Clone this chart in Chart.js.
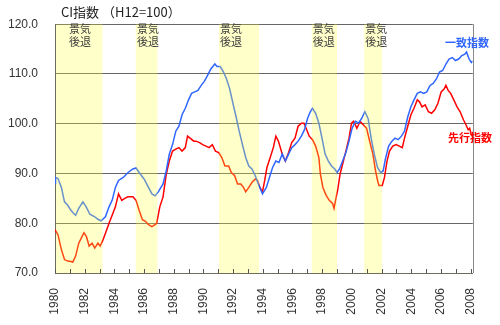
<!DOCTYPE html>
<html>
<head>
<meta charset="utf-8">
<script src="https://cdn.jsdelivr.net/npm/chart.js@4.4.1/dist/chart.umd.min.js"></script>
<style>
  html, body { margin: 0; padding: 0; background: #ffffff; }
  #wrap { width: 500px; height: 325px; }
</style>
</head>
<body>
<div id="wrap"><canvas id="c" width="500" height="325"></canvas></div>
<script>
// CI indices (H12 = 100), sampled through 1980 - early 2008
const coincidentYears = [
  1980.0, 1980.04, 1980.2, 1980.43, 1980.64, 1980.86, 1981.07, 1981.25, 1981.39, 1981.6,
  1981.88, 1982.1, 1982.35, 1982.68, 1982.89, 1983.1, 1983.4, 1983.64, 1983.85, 1984.07,
  1984.28, 1984.6, 1984.92, 1985.25, 1985.46, 1985.67, 1986.0, 1986.3, 1986.53, 1986.74,
  1986.96, 1987.28, 1987.5, 1987.7, 1987.92, 1988.14, 1988.35, 1988.56, 1988.78, 1989.0,
  1989.2, 1989.42, 1989.63, 1989.85, 1990.06, 1990.28, 1990.5, 1990.77, 1990.92, 1991.13,
  1991.35, 1991.56, 1991.77, 1991.99, 1992.2, 1992.41, 1992.63, 1992.85, 1993.06, 1993.27,
  1993.49, 1993.7, 1993.98, 1994.24, 1994.45, 1994.66, 1994.88, 1995.09, 1995.31, 1995.52,
  1995.74, 1995.95, 1996.17, 1996.38, 1996.6, 1996.81, 1997.02, 1997.2, 1997.35, 1997.56,
  1997.78, 1997.99, 1998.2, 1998.42, 1998.63, 1998.85, 1999.0, 1999.17, 1999.38, 1999.6,
  1999.81, 2000.02, 2000.24, 2000.45, 2000.67, 2000.88, 2001.1, 2001.3, 2001.51, 2001.73,
  2001.94, 2002.11, 2002.26, 2002.48, 2002.7, 2002.91, 2003.12, 2003.34, 2003.55, 2003.77,
  2003.98, 2004.19, 2004.41, 2004.62, 2004.84, 2005.05, 2005.27, 2005.48, 2005.7, 2005.91,
  2006.12, 2006.34, 2006.55, 2006.77, 2006.98, 2007.2, 2007.41, 2007.62, 2007.73, 2007.9,
  2008.05, 2008.13
];
const coincidentValues = [
  88.0, 89.2, 89.0, 87.2, 84.3, 83.6, 82.6, 82.0, 81.6, 83.0,
  84.3, 83.3, 81.8, 81.3, 80.8, 80.5, 81.3, 83.3, 84.6, 87.2,
  88.6, 89.2, 90.2, 90.9, 91.1, 90.2, 88.9, 87.2, 85.9, 85.5,
  86.3, 87.9, 90.6, 93.9, 95.8, 98.5, 99.5, 101.8, 103.1, 104.8,
  106.1, 106.4, 106.7, 107.7, 108.5, 109.7, 111.0, 112.0, 111.5, 111.5,
  110.4, 109.0, 107.0, 104.1, 101.4, 98.5, 95.8, 93.2, 91.5, 90.9,
  89.6, 87.9, 85.9, 87.2, 89.2, 91.2, 92.5, 92.2, 93.9, 92.5,
  93.9, 95.2, 95.8, 96.5, 97.5, 98.8, 101.1, 102.4, 103.1, 102.1,
  100.1, 97.1, 93.9, 92.5, 91.5, 90.9, 90.2, 90.9, 92.5, 94.2,
  96.5, 99.1, 100.5, 100.1, 101.1, 102.4, 101.0, 97.1, 93.9, 91.2,
  90.2, 90.5, 92.9, 95.5, 96.5, 97.1, 96.8, 97.5, 98.5, 101.4,
  103.4, 104.8, 106.1, 106.4, 106.1, 106.4, 107.7, 108.1, 109.0, 110.4,
  110.7, 112.0, 113.0, 113.3, 112.7, 113.0, 113.7, 114.0, 114.4, 113.0,
  112.3, 112.6
];

const leadingYears = [
  1980.0, 1980.2, 1980.43, 1980.64, 1980.86, 1981.07, 1981.2, 1981.39, 1981.6, 1981.82,
  1981.95, 1982.12, 1982.3, 1982.5, 1982.68, 1982.89, 1983.04, 1983.2, 1983.4, 1983.64,
  1983.85, 1984.07, 1984.28, 1984.5, 1984.7, 1984.92, 1985.25, 1985.46, 1985.67, 1985.89,
  1986.1, 1986.3, 1986.53, 1986.74, 1986.85, 1987.06, 1987.28, 1987.5, 1987.7, 1987.92,
  1988.14, 1988.35, 1988.56, 1988.78, 1988.93, 1989.1, 1989.35, 1989.5, 1989.74, 1989.95,
  1990.17, 1990.38, 1990.6, 1990.81, 1991.03, 1991.24, 1991.45, 1991.7, 1991.88, 1992.1,
  1992.3, 1992.52, 1992.7, 1992.85, 1993.06, 1993.27, 1993.49, 1993.64, 1993.81, 1993.98,
  1994.13, 1994.28, 1994.5, 1994.71, 1994.88, 1995.05, 1995.31, 1995.52, 1995.74, 1995.95,
  1996.17, 1996.38, 1996.6, 1996.77, 1996.92, 1997.13, 1997.35, 1997.56, 1997.78, 1997.88,
  1998.05, 1998.27, 1998.48, 1998.7, 1998.8, 1998.95, 1999.06, 1999.21, 1999.38, 1999.6,
  1999.81, 1999.98, 2000.12, 2000.34, 2000.56, 2000.77, 2000.99, 2001.2, 2001.42, 2001.6,
  2001.75, 2001.83, 2002.05, 2002.2, 2002.37, 2002.54, 2002.76, 2002.98, 2003.2, 2003.4,
  2003.55, 2003.77, 2003.98, 2004.19, 2004.41, 2004.56, 2004.73, 2004.94, 2005.16, 2005.37,
  2005.59, 2005.8, 2006.02, 2006.23, 2006.34, 2006.49, 2006.66, 2006.87, 2007.09, 2007.3,
  2007.52, 2007.69, 2007.84, 2007.94, 2008.05, 2008.13
];
const leadingValues = [
  78.7, 77.7, 74.7, 72.7, 72.4, 72.3, 72.2, 73.4, 76.0, 77.3,
  78.1, 77.3, 75.4, 76.0, 75.0, 76.0, 75.4, 76.4, 78.0, 80.0,
  81.6, 83.3, 85.9, 84.6, 85.0, 85.3, 85.3, 84.6, 82.6, 80.7,
  80.4, 79.7, 79.3, 79.7, 80.0, 83.3, 85.3, 89.9, 92.5, 94.5,
  94.9, 95.2, 94.5, 95.2, 97.5, 97.1, 96.5, 96.5, 96.2, 95.8,
  95.5, 95.2, 95.8, 94.5, 94.2, 93.2, 91.5, 91.5, 90.2, 89.6,
  87.9, 87.9, 87.2, 86.3, 87.2, 88.2, 88.9, 88.6, 87.2, 86.3,
  88.6, 91.2, 93.2, 95.2, 97.5, 96.5, 93.9, 92.5, 94.2, 96.2,
  97.1, 99.5, 100.1, 100.1, 99.1, 97.5, 96.8, 95.5, 93.2, 89.9,
  87.2, 85.6, 84.6, 84.0, 83.0, 85.3, 86.9, 89.9, 91.9, 94.5,
  97.1, 100.1, 100.5, 99.1, 100.5, 99.8, 99.1, 96.5, 93.9, 90.5,
  88.4, 87.6, 87.6, 89.2, 92.5, 94.5, 95.5, 95.8, 95.5, 95.2,
  97.1, 99.5, 101.8, 103.1, 104.8, 104.4, 103.4, 103.8, 102.4, 102.1,
  102.8, 104.1, 106.4, 107.0, 107.7, 106.7, 106.1, 104.8, 103.4, 102.4,
  100.8, 99.8, 98.8, 99.1, 97.8, 97.5
];

// Recession periods (start / end, decimal years)
const recessionStart = [1980.0, 1985.45, 1991.05, 1997.3, 2000.83];
const recessionEnd   = [1983.2, 1986.9, 1993.75, 1999.0, 2002.03];

const xTickYears = [1980, 1982, 1984, 1986, 1988, 1990, 1992, 1994, 1996, 1998, 2000, 2002, 2004, 2006, 2008];
const yTickValues = [70, 80, 90, 100, 110, 120];

const titleText = 'CI指数 （H12=100）';
const recessionLabel = ['景気', '後退'];
const coincidentName = '一致指数';
const leadingName = '先行指数';

const BLUE = '#2f66ff';
const RED = '#ff0000';
const CJK = '"Noto Sans CJK JP", "Noto Sans", sans-serif';

const pairs = (xs, ys) => xs.map((x, i) => ({ x: x, y: ys[i] }));

// Shaded recession bands (drawn over the lines, semi-transparent), labels and frame details
const overlayPlugin = {
  id: 'overlay',
  afterDatasetsDraw(chart) {
    const { ctx, chartArea: a, scales: { x, y } } = chart;
    ctx.save();

    // recession bands
    ctx.fillStyle = 'rgba(255,255,60,0.28)';
    for (let i = 0; i < recessionStart.length; i++) {
      const x0 = Math.max(a.left + 1, x.getPixelForValue(recessionStart[i]));
      const x1 = x.getPixelForValue(recessionEnd[i]);
      ctx.fillRect(x0, a.top, x1 - x0, a.bottom - a.top);
    }

    // right frame line
    ctx.strokeStyle = '#888888';
    ctx.lineWidth = 1;
    ctx.beginPath();
    ctx.moveTo(Math.round(a.right) + 0.5, a.top);
    ctx.lineTo(Math.round(a.right) + 0.5, a.bottom);
    ctx.stroke();

    // yearly tick marks pointing into the plot
    ctx.strokeStyle = '#555555';
    ctx.beginPath();
    for (let yr = 1980; yr <= 2008; yr++) {
      const px = Math.round(x.getPixelForValue(yr)) + 0.5;
      ctx.moveTo(px, a.bottom);
      ctx.lineTo(px, a.bottom - 4);
    }
    ctx.stroke();

    // recession labels
    ctx.fillStyle = '#404040';
    ctx.font = '11px ' + CJK;
    ctx.textBaseline = 'middle';
    ctx.textAlign = 'left';
    for (let i = 0; i < recessionStart.length; i++) {
      const bx = x.getPixelForValue(recessionStart[i]);
      const lx = Math.max(bx + 1, a.left + 14);
      ctx.fillText(recessionLabel[0], lx, 29);
      ctx.fillText(recessionLabel[1], lx, 42);
    }

    // series names
    ctx.font = 'bold 11px ' + CJK;
    ctx.textAlign = 'right';
    ctx.fillStyle = BLUE;
    ctx.fillText(coincidentName, 489, 43);
    ctx.fillStyle = RED;
    ctx.fillText(leadingName, 492, 138);

    // title
    ctx.fillStyle = '#222222';
    ctx.font = '13px ' + CJK;
    ctx.textAlign = 'left';
    ctx.fillText(titleText, 61, 12);

    ctx.restore();
  }
};

new Chart(document.getElementById('c'), {
  type: 'line',
  data: {
    datasets: [
      {
        label: coincidentName,
        data: pairs(coincidentYears, coincidentValues),
        borderColor: BLUE,
        borderWidth: 1.5,
        pointRadius: 0,
        tension: 0,
        fill: false
      },
      {
        label: leadingName,
        data: pairs(leadingYears, leadingValues),
        borderColor: RED,
        borderWidth: 1.5,
        pointRadius: 0,
        tension: 0,
        fill: false
      }
    ]
  },
  options: {
    responsive: false,
    animation: false,
    parsing: true,
    layout: { padding: { top: 21, right: 7, left: 0, bottom: 0 } },
    plugins: {
      legend: { display: false },
      tooltip: { enabled: false },
      title: { display: false }
    },
    scales: {
      x: {
        type: 'linear',
        min: 1980,
        max: 2008.15,
        afterBuildTicks: (s) => { s.ticks = xTickYears.map(v => ({ value: v })); },
        afterFit: (s) => { s.height = 52; },
        grid: { display: false, drawTicks: false },
        border: { display: true, color: '#6e6e5e', width: 1 },
        ticks: {
          autoSkip: false,
          minRotation: 90,
          maxRotation: 90,
          padding: 15,
          color: '#333333',
          font: { family: '"Liberation Sans", Arial, sans-serif', size: 12 },
          callback: (v) => String(v)
        }
      },
      y: {
        min: 70,
        max: 120,
        afterBuildTicks: (s) => { s.ticks = yTickValues.map(v => ({ value: v })); },
        afterFit: (s) => { s.width = 55; },
        grid: { color: '#666666', lineWidth: 1, drawTicks: false },
        border: { display: true, color: '#6e6e5e', width: 1 },
        ticks: {
          padding: 17,
          color: '#333333',
          font: { family: '"Liberation Sans", Arial, sans-serif', size: 12 },
          callback: (v) => Number(v).toFixed(1)
        }
      }
    }
  },
  plugins: [overlayPlugin]
});
</script>
</body>
</html>
